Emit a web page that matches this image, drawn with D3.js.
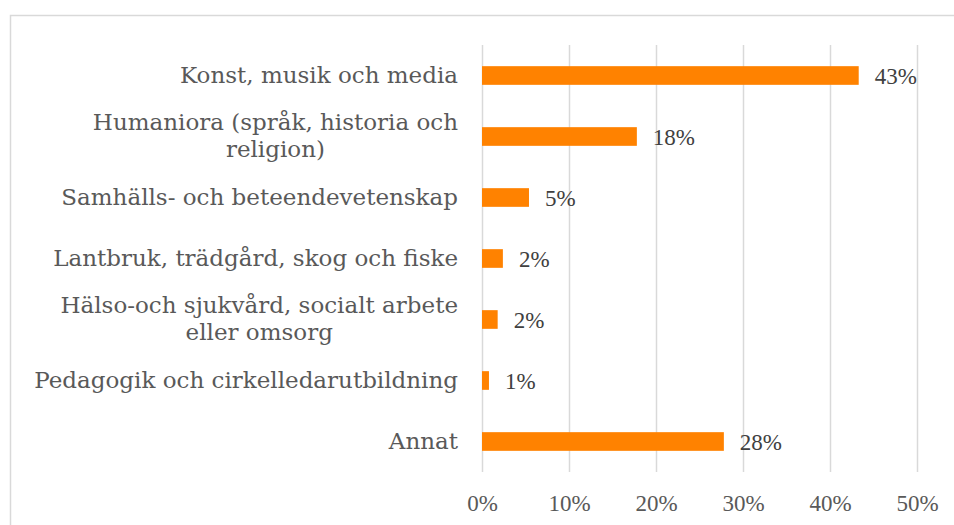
<!DOCTYPE html>
<html><head><meta charset="utf-8">
<script src="https://cdn.jsdelivr.net/npm/d3@7"></script>
<style>body{margin:0;background:#fff}svg{display:block}</style>
</head><body>
<svg id="chart" width="954" height="525"></svg>
<script>
const categories = [
  ["Konst, musik och media"],
  ["Humaniora (språk, historia och", "religion)"],
  ["Samhälls- och beteendevetenskap"],
  ["Lantbruk, trädgård, skog och fiske"],
  ["Hälso-och sjukvård, socialt arbete", "eller omsorg"],
  ["Pedagogik och cirkelledarutbildning"],
  ["Annat"]
];
const values = [0.433, 0.178, 0.054, 0.024, 0.018, 0.008, 0.278];
const valueLabels = ["43%", "18%", "5%", "2%", "2%", "1%", "28%"];
const ticks = [0, 0.1, 0.2, 0.3, 0.4, 0.5];

const svg = d3.select("#chart");
const font = "'DejaVu Serif', serif";
const numFont = "'Liberation Serif', serif";
const m = {left: 482, right: 917, top: 45, bottom: 472};

svg.append("rect").attr("x", 10.5).attr("y", 15.5).attr("width", 960).attr("height", 530)
  .attr("fill", "none").attr("stroke", "#d9d9d9").attr("stroke-width", 1.5);

const x = d3.scaleLinear().domain([0, 0.5]).range([m.left, m.right]);
const idx = d3.range(categories.length);
const y = d3.scaleBand().domain(idx).range([m.top, m.bottom]).paddingInner(0.694).paddingOuter(0.347);

// gridlines
svg.append("g").selectAll("line").data(ticks).join("line")
  .attr("x1", d => Math.round(x(d)) + 0.5).attr("x2", d => Math.round(x(d)) + 0.5)
  .attr("y1", m.top).attr("y2", m.bottom)
  .attr("stroke", "#d9d9d9").attr("stroke-width", 1.5);

// x axis labels
const xAxis = d3.axisBottom(x).tickValues(ticks).tickFormat(d3.format(".0%")).tickSize(0).tickPadding(0);
const gx = svg.append("g").attr("transform", `translate(0,${m.bottom})`).call(xAxis);
gx.select(".domain").remove();
gx.selectAll("text").attr("dy", null).attr("y", 39)
  .attr("font-family", numFont).attr("font-size", 23).attr("fill", "#595959");

// bars
svg.append("g").selectAll("rect").data(idx).join("rect")
  .attr("x", x(0)).attr("y", i => y(i))
  .attr("width", i => x(values[i]) - x(0)).attr("height", y.bandwidth())
  .attr("fill", "#ff8200");

// value labels
svg.append("g").selectAll("text").data(idx).join("text")
  .attr("x", i => x(values[i]) + 16).attr("y", i => y(i) + y.bandwidth() / 2 + 8)
  .attr("font-family", numFont).attr("font-size", 23).attr("fill", "#404040")
  .text(i => valueLabels[i]);

// category labels (lines centred, block right-aligned)
const yAxis = d3.axisLeft(y).tickSize(0).tickPadding(0).tickFormat("");
const gy = svg.append("g").attr("transform", `translate(${m.left - 24},0)`).call(yAxis);
gy.select(".domain").remove();
const lh = 27;
gy.selectAll(".tick").each(function(i) {
  const lines = categories[i];
  const t = d3.select(this).append("text")
    .attr("font-family", font).attr("font-size", 23).attr("fill", "#595959");
  const spans = lines.map((ln, k) => t.append("tspan")
      .attr("y", (k - (lines.length - 1) / 2) * lh + 7)
      .text(ln));
  const widths = spans.map(s => s.node().getComputedTextLength());
  const w = d3.max(widths);
  spans.forEach(s => s.attr("text-anchor", "middle").attr("x", -w / 2));
});
</script>
</body></html>
